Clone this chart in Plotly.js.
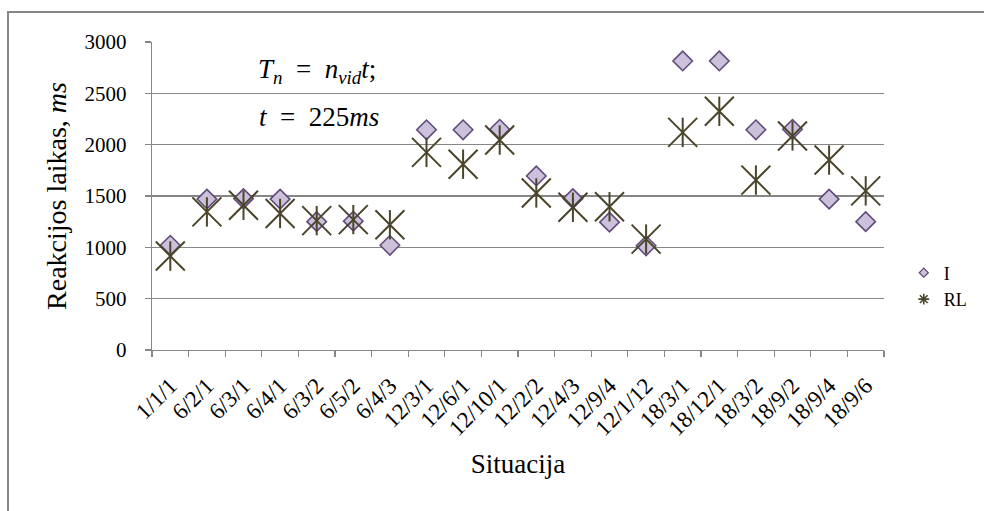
<!DOCTYPE html>
<html>
<head>
<meta charset="utf-8">
<script src="https://cdn.plot.ly/plotly-3.0.1.min.js"></script>
<style>
  html, body { margin: 0; padding: 0; background: #ffffff; overflow: hidden; }
  #wrap { position: relative; width: 984px; height: 511px; }
  #chart { position: absolute; left: 0; top: 0; width: 984px; height: 511px; }
</style>
</head>
<body>
<div id="wrap"><div id="chart"></div></div>
<script>
// Situations (vehicles / lanes / groups) on the category axis
const situations = ['1/1/1', '6/2/1', '6/3/1', '6/4/1', '6/3/2', '6/5/2', '6/4/3',
  '12/3/1', '12/6/1', '12/10/1', '12/2/2', '12/4/3', '12/9/4', '12/1/12',
  '18/3/1', '18/12/1', '18/3/2', '18/9/2', '18/9/4', '18/9/6'];

// Reaction time, ms
const valuesI = [1020, 1470, 1475, 1470, 1250, 1255, 1020, 2145, 2145, 2150,
  1695, 1475, 1245, 1015, 2815, 2815, 2145, 2150, 1470, 1250];
const valuesRL = [915, 1345, 1410, 1330, 1260, 1270, 1220, 1925, 1810, 2045,
  1530, 1390, 1395, 1080, 2120, 2325, 1655, 2085, 1850, 1550];

const yTicks = [0, 500, 1000, 1500, 2000, 2500, 3000];

const serif = "'Liberation Serif', 'Times New Roman', serif";
const gridGray = '#868686';
const purpleFill = '#ccc1da';
const purpleLine = '#604a7b';
const olive = '#4a452a';

const traces = [
  // I series: diamonds
  {
    type: 'scatter', mode: 'markers', name: 'I', showlegend: false,
    x: situations, y: valuesI,
    marker: { symbol: 'diamond', size: 15, color: purpleFill,
              line: { color: purpleLine, width: 1.6 } },
    cliponaxis: false
  },
  // RL series: an X with a vertical stroke through it
  {
    type: 'scatter', mode: 'markers', name: 'RL', showlegend: false,
    x: situations, y: valuesRL,
    marker: { symbol: 'x-thin', size: 29, color: olive,
              line: { color: olive, width: 2 } },
    cliponaxis: false
  },
  {
    type: 'scatter', mode: 'markers', name: 'RL', showlegend: false,
    x: situations, y: valuesRL,
    marker: { symbol: 'line-ns', size: 21, color: olive,
              line: { color: olive, width: 2 } },
    cliponaxis: false
  },
  // compact legend keys
  {
    type: 'scatter', mode: 'markers', name: 'I',
    x: [null], y: [null],
    marker: { symbol: 'diamond', size: 7, color: purpleFill,
              line: { color: purpleLine, width: 1.2 } }
  },
  {
    type: 'scatter', mode: 'markers', name: 'RL',
    x: [null], y: [null],
    marker: { symbol: 'asterisk', size: 9, color: olive,
              line: { color: olive, width: 1.6 } }
  }
];

const layout = {
  width: 984, height: 511,
  margin: { l: 152, r: 100, t: 42, b: 161, autoexpand: false },
  paper_bgcolor: 'rgba(0,0,0,0)', plot_bgcolor: 'rgba(0,0,0,0)',
  font: { family: serif, size: 20, color: '#000000' },
  showlegend: true,
  legend: {
    x: 1.027, y: 0.31, xanchor: 'left', yanchor: 'top',
    font: { family: serif, size: 18, color: '#000000' },
    bgcolor: 'rgba(0,0,0,0)', itemwidth: 30, tracegroupgap: 0
  },
  xaxis: {
    type: 'category', range: [-0.5, situations.length - 0.5],
    showline: true, linecolor: gridGray, linewidth: 1.2,
    ticks: 'outside', tickson: 'boundaries', ticklen: 6, tickcolor: gridGray, tickwidth: 1.2,
    tickangle: -45, showgrid: false, ticklabelstandoff: 12,
    tickfont: { family: serif, size: 23, color: '#000000' },
    title: { text: 'Situacija', font: { family: serif, size: 27, color: '#000000' }, standoff: 14 }
  },
  yaxis: {
    range: [0, 3000], tickvals: yTicks, ticktext: yTicks.map(String),
    showline: true, linecolor: gridGray, linewidth: 1.2,
    ticks: 'outside', ticklen: 6, tickcolor: gridGray, tickwidth: 1.2,
    showgrid: true, gridcolor: gridGray, gridwidth: 1.2, zeroline: false,
    ticklabelstandoff: 14,
    tickfont: { family: serif, size: 21, color: '#000000' },
    title: { text: 'Reakcijos laikas, <i>ms</i>', font: { family: serif, size: 28, color: '#000000' }, standoff: 9 }
  },
  annotations: [
    { xref: 'paper', yref: 'paper', x: 0.225, y: 0.905, showarrow: false,
      xanchor: 'center', yanchor: 'middle',
      text: '<i>T</i><sub><i>n</i></sub>&#8194;=&#8194;<i>n</i><sub><i>vid</i></sub><i>t</i>;',
      font: { family: serif, size: 27, color: '#000000' } },
    { xref: 'paper', yref: 'paper', x: 0.228, y: 0.755, showarrow: false,
      xanchor: 'center', yanchor: 'middle',
      text: '<i>t</i>&#8194;=&#8194;225<i>ms</i>',
      font: { family: serif, size: 27, color: '#000000' } }
  ]
};

// outer chart frame: only the top and left edges sit inside the page
const frame = document.createElement('div');
frame.style.cssText = 'position:absolute;left:7px;top:11px;width:1200px;height:800px;' +
  'border-top:2px solid ' + gridGray + ';border-left:2px solid ' + gridGray + ';pointer-events:none;';
document.getElementById('wrap').insertBefore(frame, document.getElementById('chart'));

Plotly.newPlot('chart', traces, layout, { displayModeBar: false, staticPlot: true });
</script>
</body>
</html>
